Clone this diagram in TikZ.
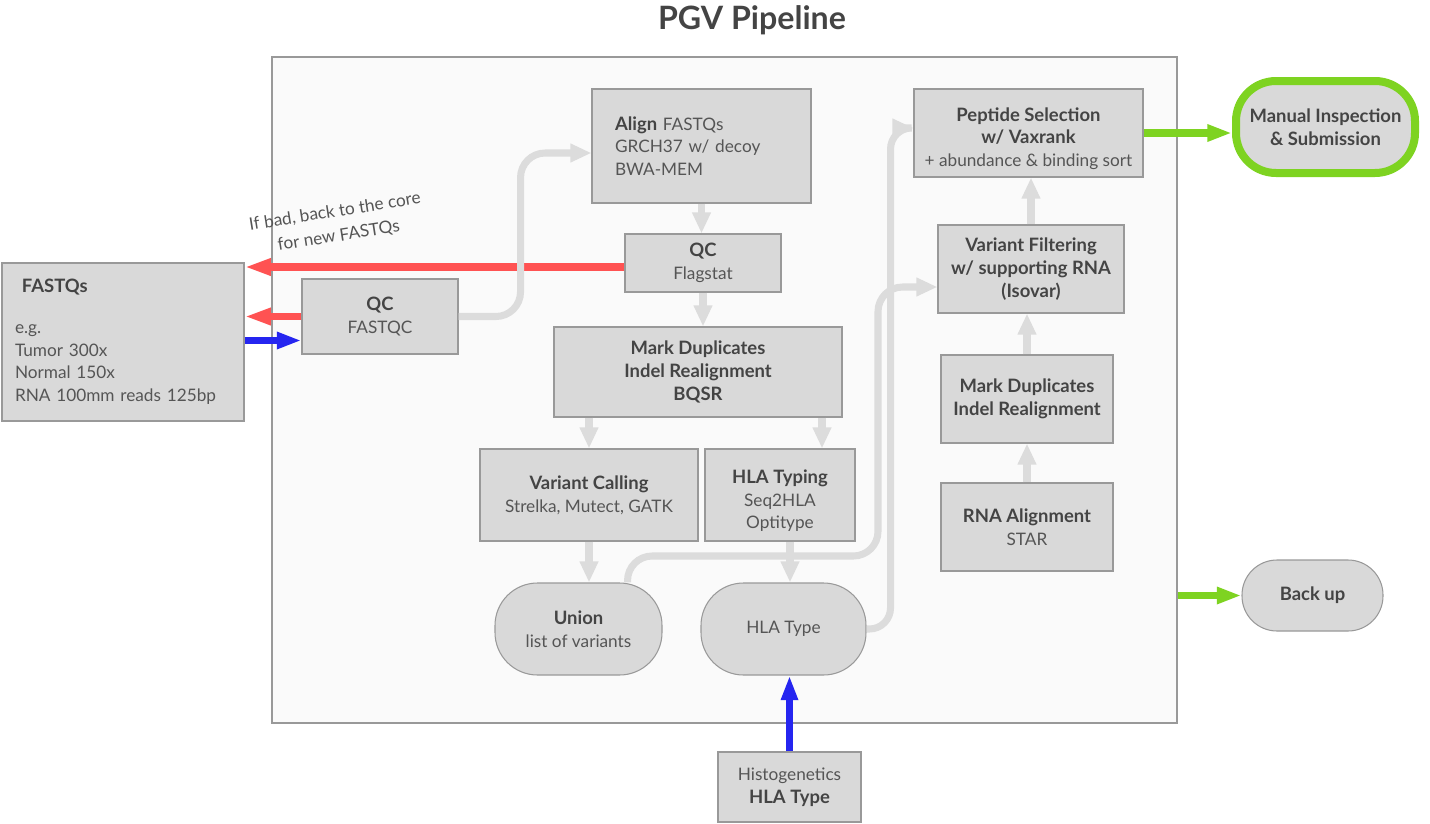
\documentclass[tikz,border=0pt]{standalone}
\usepackage{fontspec}
\setmainfont{Lato}
\usetikzlibrary{arrows.meta}
\definecolor{boxfill}{HTML}{D9D9D9}
\definecolor{boxline}{HTML}{999999}
\definecolor{corefill}{HTML}{FAFAFA}
\definecolor{txtdark}{HTML}{444444}
\definecolor{txtsoft}{HTML}{555555}
\definecolor{flowgray}{HTML}{DCDCDC}
\definecolor{badred}{HTML}{FF5252}
\definecolor{inblue}{HTML}{2525F0}
\definecolor{okgreen}{HTML}{7ED321}
\newcommand{\stagehead}[1]{{\fontsize{10.5}{13}\selectfont\bfseries\color{txtdark}#1}}
\begin{document}
\begin{tikzpicture}[
        font=\fontsize{9.8}{13}\selectfont,
        stage/.style={rectangle, draw=boxline, fill=boxfill, line width=0.6pt, text=txtsoft, align=center, inner sep=2pt},
        pill/.style={stage, rounded corners=0.85cm},
        flow/.style={draw=flowgray, line width=4pt, -{Triangle[length=12pt,width=10pt]}},
        reject/.style={draw=badred, line width=4pt, -{Triangle[length=15pt,width=9pt]}},
        supply/.style={draw=inblue, line width=4pt, -{Triangle[length=14pt,width=9pt]}},
        deliver/.style={draw=okgreen, line width=4pt, -{Triangle[length=14pt,width=9pt]}}
    ]
    \useasboundingbox (0,0) rectangle (28.6,-16.48);
    \node[font=\fontsize{18.3}{22}\selectfont\bfseries, text=txtdark] (title) at (15.04,-0.4) {PGV Pipeline};
    \node[draw=boxline, fill=corefill, line width=0.6pt, minimum width=18.1cm, minimum height=13.32cm] (core) at (14.49,-7.8) {};

    % input side
    \node[stage, minimum width=4.84cm, minimum height=3.16cm, text width=4.32cm, inner xsep=0.26cm, align=left] (fastq) at (2.46,-6.84) {
        \hspace{0.14cm}\stagehead{FASTQs}\\[10pt]
        e.g.\\
        Tumor 300x\\
        Normal 150x\\
        RNA 100mm reads 125bp
    };
    \node[stage, minimum width=3.12cm, minimum height=1.5cm] (qc1) at (7.6,-6.33) {\stagehead{QC}\\FASTQC};
    \node[stage, minimum width=4.38cm, minimum height=2.28cm, text width=3.46cm, inner xsep=0.46cm, align=left] (align) at (14.03,-2.92) {
        \stagehead{Align} FASTQs\\GRCH37 w/ decoy\\BWA-MEM
    };
    \node[stage, minimum width=3.12cm, minimum height=1.16cm] (qc2) at (14.06,-5.26) {\stagehead{QC}\\Flagstat};
    \node[stage, minimum width=5.76cm, minimum height=1.8cm] (mdup) at (13.96,-7.44) {\stagehead{Mark Duplicates}\\\stagehead{Indel Realignment}\\\stagehead{BQSR}};
    \node[stage, minimum width=4.36cm, minimum height=1.84cm] (vcall) at (11.78,-9.9) {\stagehead{Variant Calling}\\Strelka, Mutect, GATK};
    \node[stage, minimum width=3cm, minimum height=1.84cm] (hlatyp) at (15.6,-9.9) {\rule{0pt}{0.5cm}\stagehead{HLA Typing}\\Seq2HLA\\Optitype};
    \node[pill, minimum width=3.34cm, minimum height=1.84cm] (union) at (11.57,-12.58) {\stagehead{Union}\\list of variants};
    \node[pill, minimum width=3.3cm, minimum height=1.84cm] (hlatype) at (15.67,-12.58) {HLA Type};
    \node[stage, minimum width=2.86cm, minimum height=1.4cm] (histo) at (15.79,-15.74) {Histogenetics\\\stagehead{HLA Type}};

    % RNA side
    \node[stage, minimum width=4.58cm, minimum height=1.76cm] (pept) at (20.57,-2.66) {\rule{0pt}{0.5cm}\stagehead{Peptide Selection}\\\stagehead{w/ Vaxrank}\\+ abundance \& binding sort};
    \node[stage, minimum width=3.72cm, minimum height=1.76cm] (vfilt) at (20.62,-5.38) {\stagehead{Variant Filtering}\\\stagehead{w/ supporting RNA}\\\stagehead{(Isovar)}};
    \node[stage, minimum width=3.44cm, minimum height=1.76cm] (mdup2) at (20.54,-7.98) {\stagehead{Mark Duplicates}\\\stagehead{Indel Realignment}};
    \node[stage, minimum width=3.44cm, minimum height=1.76cm] (rnaal) at (20.54,-10.54) {\stagehead{RNA Alignment}\\STAR};

    % outputs
    \node[stage, draw=okgreen, line width=0.16cm, rounded corners=0.8cm, minimum width=3.58cm, minimum height=1.84cm] (manual) at (26.51,-2.54) {\stagehead{Manual Inspection}\\\stagehead{\& Submission}};
    \node[stage, rounded corners=0.7cm, minimum width=2.82cm, minimum height=1.42cm] (backup) at (26.25,-11.91) {\stagehead{Back up}};

    % connectors
    \draw[reject] ([yshift=-0.08cm]qc2.west) -- ([yshift=-0.08cm]qc2.west -| fastq.east)
        node[pos=0.745, above=0.28cm, rotate=9, text=txtsoft, align=center, font=\fontsize{9.8}{14}\selectfont] (note) {If bad, back to the core\\for new FASTQs};
    \draw[reject] (qc1.west) -- (qc1.west -| fastq.east);
    \draw[supply] ([yshift=-0.48cm]qc1.west -| fastq.east) -- ([yshift=-0.48cm]qc1.west);
    \draw[flow, rounded corners=14pt] (qc1.east) -- ++(1.24,0) |- ([yshift=-0.14cm]align.west);
    \draw[flow] (align.south) -- (align.south |- qc2.north);
    \draw[flow] (qc2.south) -- (qc2.south |- mdup.north);
    \draw[flow] (vcall.north |- mdup.south) -- (vcall.north);
    \draw[flow] ([xshift=0.84cm]hlatyp.north |- mdup.south) -- ([xshift=0.84cm]hlatyp.north);
    \draw[flow] (vcall.south) -- (vcall.south |- union.north);
    \draw[flow] ([xshift=0.2cm]hlatyp.south) -- ([xshift=0.2cm]hlatyp.south |- hlatype.north);
    \draw[supply] (histo.north) -- (histo.north |- hlatype.south);
    \draw[flow, rounded corners=14pt] ([xshift=-0.7cm]union.north east) |- (17.56,-11.12) |- ([yshift=-0.36cm]vfilt.west);
    \draw[flow, rounded corners=12pt] (hlatype.east) -- ++(0.48,0) |- ([yshift=0.1cm]pept.west);
    \draw[flow] (rnaal.north) -- (rnaal.north |- mdup2.south);
    \draw[flow] (mdup2.north) -- (mdup2.north |- vfilt.south);
    \draw[flow] (vfilt.north) -- (vfilt.north |- pept.south);
    \draw[deliver] (pept.east) -- (pept.east -| manual.west);
    \draw[deliver] (core.east |- backup.west) -- (backup.west);
\end{tikzpicture}
\end{document}
